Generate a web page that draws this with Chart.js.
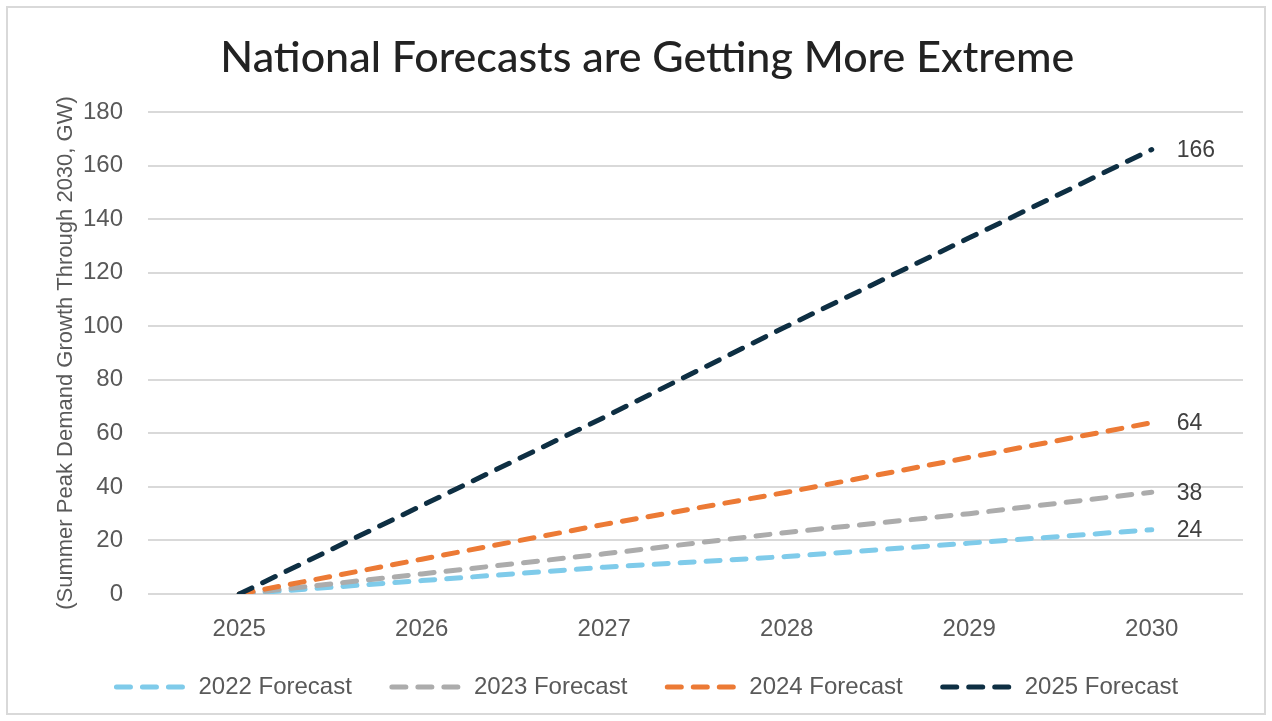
<!DOCTYPE html>
<html>
<head>
<meta charset="utf-8">
<title>National Forecasts are Getting More Extreme</title>
<script src="https://cdn.jsdelivr.net/npm/chart.js@4/dist/chart.umd.min.js"></script>
<style>
  body { margin: 0; background: #fff; }
  #wrap { position: relative; width: 1272px; height: 721px; }
  #frame {
    position: absolute; left: 6px; top: 6px; width: 1260px; height: 709px;
    box-sizing: border-box; border: 2px solid #d9d9d9; pointer-events: none;
  }
</style>
</head>
<body>
<div id="wrap">
  <canvas id="myChart" width="1272" height="721"></canvas>
  <div id="frame"></div>
</div>
<script>
// data
const years = ["2025", "2026", "2027", "2028", "2029", "2030"];
const forecast2022 = [0, 5, 10, 14, 19, 24];
const forecast2023 = [0, 7.5, 15, 23, 30, 38];
const forecast2024 = [0, 13, 26, 38, 51, 64];
const forecast2025 = [0, 33, 66, 100, 133, 166];
const yTicks = { min: 0, max: 180, step: 20 };

const tickFont = { family: "'Liberation Sans', Arial, sans-serif", size: 24 };
const greyText = "#595959";

function dashed(label, data, color, order) {
    return {
        label: label,
        data: data,
        borderColor: color,
        backgroundColor: color,
        borderWidth: 5,
        borderDash: [14, 12],
        borderCapStyle: "round",
        pointRadius: 0,
        tension: 0,
        fill: false,
        order: order
    };
}

// value written right of the last point of each line
const endLabels = {
    id: "endLabels",
    afterDatasetsDraw(chart) {
        const ctx = chart.ctx;
        ctx.save();
        ctx.font = "23px 'Liberation Sans', Arial, sans-serif";
        ctx.fillStyle = "#404040";
        ctx.textAlign = "left";
        ctx.textBaseline = "middle";
        chart.data.datasets.forEach((ds, i) => {
            const pts = chart.getDatasetMeta(i).data;
            const last = pts[pts.length - 1];
            ctx.fillText(ds.data[ds.data.length - 1], last.x + 25, last.y + 1);
        });
        ctx.restore();
    }
};

// legend row sits a bit closer to the axis labels than its padding allows
const liftLegend = {
    id: "liftLegend",
    afterLayout(chart) {
        chart.legend.top -= 19;
        chart.legend.bottom -= 19;
    }
};

const ctx = document.getElementById("myChart").getContext("2d");
new Chart(ctx, {
    type: "line",
    data: {
        labels: years,
        datasets: [
            dashed("2022 Forecast", forecast2022, "#7fcbea", 3),
            dashed("2023 Forecast", forecast2023, "#acacac", 2),
            dashed("2024 Forecast", forecast2024, "#ec7a35", 1),
            dashed("2025 Forecast", forecast2025, "#0e2f43", 0)
        ]
    },
    options: {
        responsive: false,
        animation: false,
        layout: { padding: { left: 51.6, right: 29, top: 0, bottom: 0 } },
        plugins: {
            title: {
                display: true,
                text: "National Forecasts are Getting More Extreme",
                color: "#222222",
                font: { family: "Lato, 'Noto Sans', sans-serif", size: 43, weight: "500" },
                padding: { top: 32, bottom: 28.4 }
            },
            legend: {
                position: "bottom",
                maxHeight: 67,
                labels: {
                    usePointStyle: true,
                    pointStyle: "line",
                    pointStyleWidth: 70,
                    color: greyText,
                    font: tickFont,
                    padding: 40,
                    generateLabels(chart) {
                        const items = Chart.defaults.plugins.legend.labels.generateLabels(chart);
                        items.forEach(it => {
                            const ds = chart.data.datasets[it.datasetIndex];
                            it.lineDash = ds.borderDash;
                            it.lineWidth = ds.borderWidth;
                            it.lineCap = "round";
                            it.strokeStyle = ds.borderColor;
                        });
                        return items.sort((a, b) => a.datasetIndex - b.datasetIndex);
                    }
                }
            },
            tooltip: { enabled: false }
        },
        scales: {
            x: {
                offset: true,
                grid: { display: false },
                border: { display: false },
                ticks: { color: greyText, font: tickFont, padding: 13 },
                afterFit(scale) { scale.height = 60; }
            },
            y: {
                min: yTicks.min,
                max: yTicks.max,
                ticks: { stepSize: yTicks.step, color: greyText, font: tickFont, padding: 25 },
                grid: { color: "#d9d9d9", lineWidth: 2, drawTicks: false },
                border: { display: false },
                title: {
                    display: true,
                    text: "(Summer Peak Demand Growth Through 2030, GW)",
                    color: greyText,
                    font: { family: "'Liberation Sans', Arial, sans-serif", size: 22 },
                    padding: { top: 1.2, bottom: 0 }
                },
                afterFit(scale) { scale.width = 96.4; }
            }
        }
    },
    plugins: [endLabels, liftLegend]
});
</script>
</body>
</html>
